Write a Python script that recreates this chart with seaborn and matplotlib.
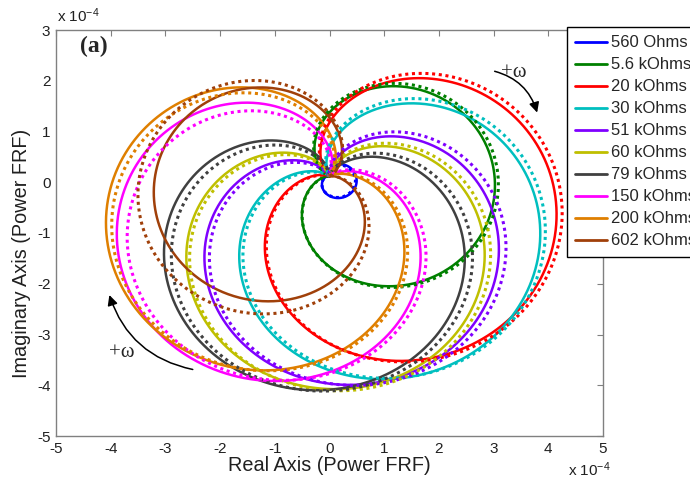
import numpy as np
import pandas as pd
import matplotlib
matplotlib.use("Agg")
import matplotlib.pyplot as plt
import seaborn as sns
from matplotlib.patches import FancyArrowPatch

# Load resistances and line colours
resistances = ["560 Ohms", "5.6 kOhms", "20 kOhms", "30 kOhms", "51 kOhms",
               "60 kOhms", "79 kOhms", "150 kOhms", "200 kOhms", "602 kOhms"]
colors = ["#0000FF", "#008000", "#FF0000", "#00BFBF", "#7F00FF",
          "#BFBF00", "#404040", "#FF00FF", "#DF7F00", "#A0400A"]

# Resonant peak of the power FRF (x 1e-4) and its phase (deg): measured
exp_peak = [0.52, 3.04, 4.36, 4.36, 4.16, 4.20, 4.24, 4.40, 4.40, 3.26]
exp_phase = [-30, -10, -31, -49, -75, -86, -100, -131, -142, -163]
# Same quantities from the model
mod_peak = [0.50, 3.10, 4.44, 4.40, 4.20, 4.24, 4.24, 4.30, 4.34, 3.56]
mod_phase = [-32, -9, -29, -46, -71, -83, -95, -126, -139, -162]

# Low / high frequency end point of the loops
origin = (0.0, 0.12)

xticks = [-5, -4, -3, -2, -1, 0, 1, 2, 3, 4, 5]
yticks = [-5, -4, -3, -2, -1, 0, 1, 2, 3]


def nyquist(peak, phase_deg, n=721):
    """Power FRF swept through resonance: square of a single-mode circle."""
    theta = np.linspace(-np.pi, np.pi, n)
    h = (1 + np.exp(1j * theta)) / 2
    p = peak * np.exp(1j * np.deg2rad(phase_deg)) * h ** 2
    return pd.DataFrame({"re": p.real + origin[0], "im": p.imag + origin[1]})


sns.set_theme(style="white")
plt.rcParams["font.family"] = ["Liberation Sans", "DejaVu Sans"]
plt.rcParams["axes.unicode_minus"] = False
plt.rcParams["mathtext.fontset"] = "custom"
plt.rcParams["mathtext.rm"] = "Liberation Sans"
plt.rcParams["mathtext.default"] = "regular"

fig = plt.figure(figsize=(6.90, 4.79), dpi=100)
ax = fig.add_axes([56 / 690, 1 - 436 / 479, 547 / 690, 406 / 479])

for name, col, pk, ph in zip(resistances, colors, exp_peak, exp_phase):
    sns.lineplot(data=nyquist(pk, ph), x="re", y="im", sort=False,
                 estimator=None, color=col, lw=1.8, label=name, ax=ax)

for col, pk, ph in zip(colors, mod_peak, mod_phase):
    line = sns.lineplot(data=nyquist(pk, ph), x="re", y="im", sort=False,
                        estimator=None, color=col, lw=2.2, ax=ax,
                        legend=False).lines[-1]
    line.set_dashes((1, 1.2))

ax.set_xlim(-5, 5)
ax.set_ylim(-5, 3)
ax.set_xticks(xticks)
ax.set_yticks(yticks)
ax.set_xticklabels([str(t) for t in xticks])
ax.set_yticklabels([str(t) for t in yticks])
ax.tick_params(direction="in", length=4, width=0.8, color="#808080",
               labelsize=11, pad=4, top=True, right=True,
               labelcolor="#202020")
for sp in ax.spines.values():
    sp.set_color("#808080")
    sp.set_linewidth(1.0)

ax.set_xlabel("Real Axis (Power FRF)", fontsize=14.3, color="#202020")
ax.set_ylabel("Imaginary Axis (Power FRF)", fontsize=14.3, color="#202020")
ax.xaxis.set_label_coords(0.5, -0.05)
ax.yaxis.set_label_coords(-0.046, 0.45)

fig.text(57 / 690, 1 - 22 / 479, r"x 10$^{-4}$", fontsize=11,
         color="#202020", ha="left", va="baseline")
fig.text(568 / 690, 1 - 476 / 479, r"x 10$^{-4}$", fontsize=11,
         color="#202020", ha="left", va="baseline")

ax.text(0.043, 0.985, "(a)", transform=ax.transAxes, fontsize=17,
        fontweight="bold", family="Liberation Serif", ha="left", va="top")

# Direction of increasing frequency
ax.add_patch(FancyArrowPatch((2.97, 2.2), (3.81, 1.32),
                             connectionstyle="arc3,rad=-0.3",
                             arrowstyle="-|>,head_length=6,head_width=3",
                             color="black", lw=1.1))
ax.add_patch(FancyArrowPatch((-2.45, -3.7), (-4.04, -2.17),
                             connectionstyle="arc3,rad=-0.3",
                             arrowstyle="-|>,head_length=6,head_width=3",
                             color="black", lw=1.1))
ax.text(3.37, 2.17, "+\u03c9", fontsize=15, family="Liberation Serif",
        ha="center", va="center")
ax.text(-3.79, -3.35, "+\u03c9", fontsize=15, family="Liberation Serif",
        ha="center", va="center")

leg = ax.legend(loc="upper left", bbox_to_anchor=(567 / 690, 1 - 27 / 479),
                bbox_transform=fig.transFigure, frameon=True, fancybox=False,
                edgecolor="black", framealpha=1, fontsize=12,
                handlelength=1.9, handletextpad=0.25, borderpad=0.5,
                labelspacing=0.42, borderaxespad=0)
leg.get_frame().set_linewidth(1.0)
for hl in leg.get_lines():
    hl.set_linewidth(2.0)

fig.savefig("out.png", dpi=100)
